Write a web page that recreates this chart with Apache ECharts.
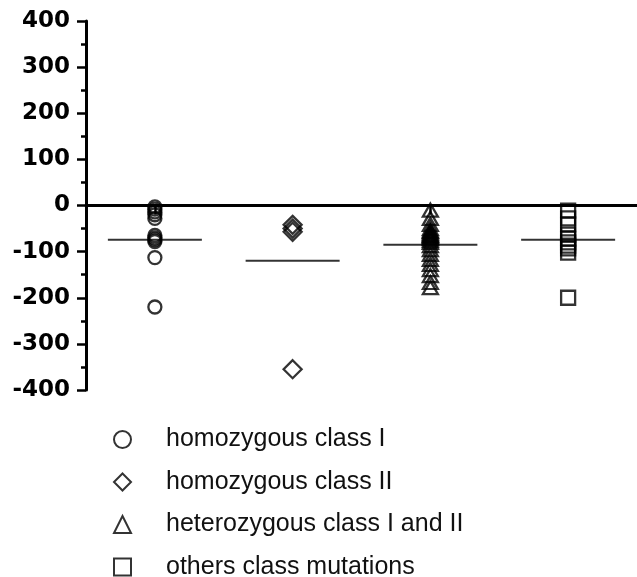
<!DOCTYPE html>
<html>
<head>
<meta charset="utf-8">
<script src="https://cdn.jsdelivr.net/npm/echarts@6/dist/echarts.min.js"></script>
<style>html,body{margin:0;padding:0;background:#fff}#c{width:637px;height:577px}</style>
</head>
<body>
<div id="c"></div>
<script>
const categories = ['homozygous class I', 'homozygous class II', 'heterozygous class I and II', 'others class mutations'];
const homoClassI = [-3, -8, -14, -20, -28, -65, -70, -74, -78, -113, -220];
const homoClassII = [-42, -50, -57, -355];
const heteroClassIandII = [-10, -28, -41, -50, -55, -57, -60, -63, -65, -67, -70, -72, -76, -80, -87, -96, -106, -117, -128, -139, -152, -167, -178];
const othersClass = [-11, -28, -41, -63, -72, -80, -87, -93, -102, -200];
const groupMeans = [-74, -120, -85, -74];
const yMin = -400, yMax = 400, yStep = 100;

const groups = [homoClassI, homoClassII, heteroClassIandII, othersClass];
const symbols = ['circle', 'diamond', 'triangle', 'rect'];
const symbolSizes = [13, 18, [15, 13], 14];
const legendIcons = ['circle', 'diamond', 'triangle', 'rect'];

const chart = echarts.init(document.getElementById('c'), null, {renderer: 'canvas'});

const series = groups.map((g, i) => ({
  name: categories[i],
  type: 'scatter',
  symbol: symbols[i],
  symbolSize: symbolSizes[i],
  itemStyle: {color: 'rgba(0,0,0,0)', borderColor: '#000', borderWidth: 2.3},
  data: g.map(v => [i, v]),
  z: 3
}));
series.push({
  name: 'mean',
  type: 'scatter',
  symbol: 'rect',
  symbolSize: [94, 2],
  itemStyle: {color: '#000'},
  data: groupMeans.map((v, i) => [i, v]),
  z: 2
});

chart.setOption({
  animation: false,
  grid: {left: 86, top: 21, width: 552, bottom: 187, containLabel: false},
  xAxis: {
    type: 'category',
    data: categories,
    boundaryGap: true,
    axisLine: {onZero: true, lineStyle: {color: '#000', width: 3}},
    axisTick: {show: true, alignWithLabel: true, length: 9, lineStyle: {color: '#000', width: 2.5}},
    axisLabel: {show: false},
    splitLine: {show: false}
  },
  yAxis: {
    type: 'value',
    min: yMin, max: yMax, interval: yStep,
    axisLine: {show: true, lineStyle: {color: '#000', width: 3}},
    axisTick: {show: true, length: 9, lineStyle: {color: '#000', width: 2.5}},
    minorTick: {show: true, splitNumber: 2, length: 5, lineStyle: {color: '#000', width: 2.5}},
    axisLabel: {margin: 16, color: '#000', fontFamily: 'DejaVu Sans', fontWeight: 'bold', fontSize: 23},
    splitLine: {show: false}
  },
  legend: {
    data: categories.map((c, i) => ({name: c, icon: legendIcons[i]})),
    orient: 'vertical',
    left: 108,
    top: 422,
    height: 200,
    itemWidth: 17,
    itemHeight: 17,
    itemGap: 17.5,
    selectedMode: false,
    itemStyle: {color: 'rgba(0,0,0,0)', borderColor: '#000', borderWidth: 2},
    textStyle: {fontFamily: 'Liberation Sans', fontSize: 25, color: '#111', padding: [0, 0, 0, 30]}
  },
  series: series
});
</script>
</body>
</html>
